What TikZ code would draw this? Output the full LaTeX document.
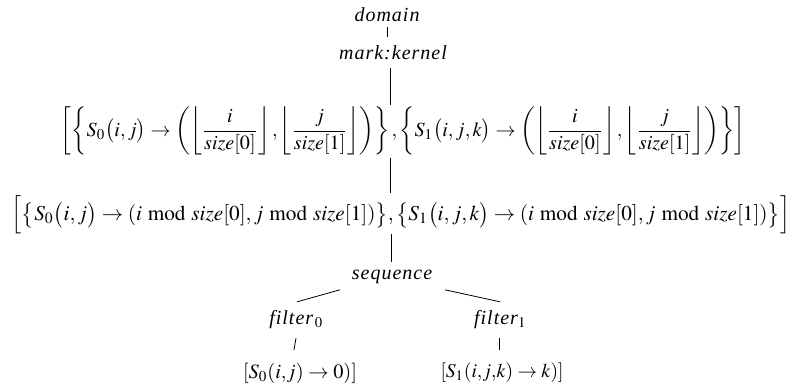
\documentclass[tikz,border=0pt]{standalone}
\usepackage{mathptmx}
\usepackage{fontspec}
\setmainfont{Liberation Serif}
\usepackage{graphicx}
\usetikzlibrary{calc}
\begin{document}
\begin{tikzpicture}[x=1pt,y=-1pt,
  every node/.style={inner sep=0pt,outer sep=0pt},
  lab/.style={font=\fontsize{20}{24}\selectfont\addfontfeatures{LetterSpace=5}\itshape},
  conn/.style={line width=0.8pt,draw=black}]
\useasboundingbox (0,0) rectangle (799,390);
\node[lab] (domain) at (387,15) {domain};
\node[lab] (mark) at (393,53) {mark:kernel};
\node (row1) at (403,131) {\resizebox{684pt}{!}{$\displaystyle
  \left[\left\{S_0\big(i,j\big)\to\left(\left\lfloor\frac{i}{size[0]}\right\rfloor,\left\lfloor\frac{j}{size[1]}\right\rfloor\right)\right\},
  \left\{S_1\big(i,j,k\big)\to\left(\left\lfloor\frac{i}{size[0]}\right\rfloor,\left\lfloor\frac{j}{size[1]}\right\rfloor\right)\right\}\right]$}};
\node (row2) at (401,215) {\resizebox{778pt}{!}{$\displaystyle
  \Big[\big\{S_0\big(i,j\big)\to(i\bmod size[0],j\bmod size[1])\big\},
  \big\{S_1\big(i,j,k\big)\to(i\bmod size[0],j\bmod size[1])\big\}\Big]$}};
\node[lab] (seq) at (392,277) {sequence};
\node[lab] (f0) at (296,320) {filter$_{\,0}$};
\node[lab] (f1) at (500,320) {filter$_{1}$};
\node (l0) at (300,373) {\resizebox{114pt}{!}{$[S_0(i,\!j)\to 0)]$}};
\node (l1) at (502,373) {\resizebox{123pt}{!}{$[S_1(i,\!j,\!k)\to k)]$}};
\draw[conn,shorten <=5pt,shorten >=9pt] (domain.south) -- (domain.south |- mark.north);
\draw[conn,shorten <=8pt,shorten >=2pt] ([xshift=-2pt]seq.north |- mark.south) -- ([xshift=-2pt]seq.north |- row1.north);
\draw[conn,shorten <=3pt,shorten >=3pt] ([xshift=-2pt]seq.north |- row1.south) -- ([xshift=-2pt]seq.north |- row2.north);
\draw[conn,shorten >=8pt] ([xshift=-1pt]seq.north |- row2.south) -- ([xshift=-1pt]seq.north);
\draw[conn] ($(seq.south west)+(-12,6)$) -- ($(f0.north)+(1,-9)$);
\draw[conn] ($(seq.south east)+(13,6)$) -- ($(f1.north)+(0,-9)$);
\draw[conn] ($(f0.south)+(0,9)$) -- ($(f0.south |- l0.north)+(-2,-13)$);
\draw[conn] ($(f1.south)+(-1,9)$) -- ($(f1.south |- l1.north)+(-1,-13)$);
\end{tikzpicture}
\end{document}
